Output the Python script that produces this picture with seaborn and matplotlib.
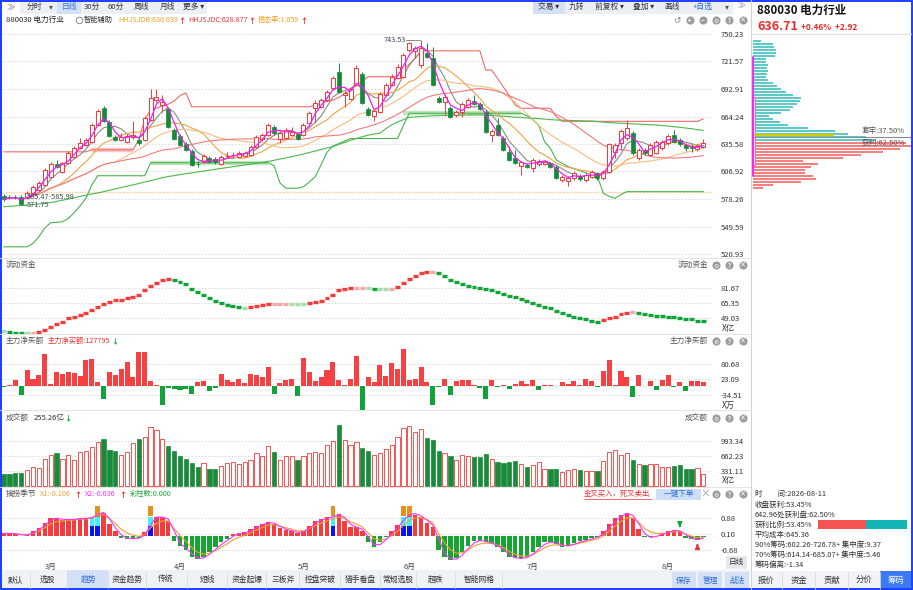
import numpy as np
import pandas as pd
import matplotlib
matplotlib.use("Agg")
import matplotlib.pyplot as plt
from matplotlib.patches import Rectangle
import seaborn as sns

# ---------------- data ----------------
open_ = [581.6, 580.4, 580.4, 580.8, 580.2, 584.4, 587.8, 593.0, 601.7, 614.6,
         606.9, 616.0, 622.2, 631.6, 634.7, 637.8, 655.6, 673.3, 658.7, 643.0,
         639.9, 638.1, 643.0, 639.9, 639.9, 660.8, 681.6, 676.4, 672.2, 650.3,
         644.1, 635.8, 628.8, 614.9, 617.3, 621.2, 620.1, 614.9, 623.1, 623.8,
         622.5, 623.2, 624.3, 632.9, 640.6, 645.1, 653.8, 641.0, 642.0, 645.1,
         645.9, 645.1, 657.3, 672.9, 674.6, 681.6, 693.8, 711.1, 686.8, 682.3,
         697.2, 708.4, 672.2, 664.9, 668.8, 686.8, 697.2, 704.8, 705.9, 733.7,
         732.7, 718.1, 730.3, 725.7, 683.4, 679.8, 672.9, 666.0, 669.4, 674.6,
         680.9, 677.4, 669.4, 645.1, 655.6, 641.7, 627.7, 620.8, 613.1, 613.9,
         610.4, 614.9, 614.9, 615.6, 612.1, 598.2, 597.2, 600.0, 602.7, 598.2,
         601.7, 605.2, 599.8, 606.6, 627.4, 637.1, 641.7, 646.9, 620.8, 629.5,
         624.3, 626.7, 631.3, 636.8, 645.1, 639.9, 634.7, 633.7, 630.2, 632.5]
close = [578.1, 580.2, 580.2, 573.5, 584.7, 590.9, 595.1, 608.7, 614.9, 611.5,
         615.6, 626.4, 631.6, 636.8, 639.9, 655.6, 670.1, 659.7, 644.1, 639.9,
         643.0, 644.1, 645.1, 637.1, 662.8, 683.7, 685.0, 679.8, 653.8, 641.0,
         634.7, 629.5, 613.9, 614.8, 623.2, 617.3, 616.3, 622.5, 623.3, 623.9,
         626.1, 626.1, 632.9, 643.0, 645.1, 655.6, 646.9, 647.2, 650.3, 648.6,
         640.6, 655.6, 667.7, 678.2, 681.6, 690.2, 704.2, 690.2, 689.2, 692.7,
         714.6, 678.2, 666.0, 670.1, 687.5, 697.2, 705.9, 716.3, 728.5, 740.7,
         735.5, 736.1, 726.7, 697.2, 679.8, 685.0, 664.2, 669.4, 677.4, 681.6,
         677.4, 672.2, 648.6, 649.3, 645.1, 629.5, 619.1, 615.6, 616.3, 611.5,
         619.1, 618.0, 617.0, 612.1, 600.0, 601.7, 600.0, 605.8, 599.0, 603.4,
         606.9, 600.0, 606.6, 635.4, 634.7, 649.3, 652.1, 626.1, 629.5, 626.1,
         634.7, 638.1, 638.1, 644.1, 638.1, 635.4, 631.3, 631.1, 633.7, 636.71]
high = [583.7, 582.6, 582.6, 582.6, 586.8, 593.0, 597.1, 610.7, 617.0, 619.1,
        617.0, 628.5, 633.7, 642.0, 642.0, 657.6, 672.2, 675.3, 660.8, 645.1,
        647.2, 646.2, 659.7, 642.0, 664.9, 693.1, 693.1, 686.8, 674.3, 652.4,
        646.2, 637.8, 630.5, 618.0, 625.3, 623.2, 622.2, 624.3, 627.4, 627.4,
        628.5, 628.5, 634.7, 645.1, 647.2, 657.6, 655.6, 649.3, 652.4, 653.5,
        647.2, 657.6, 670.1, 681.6, 683.7, 692.0, 706.6, 720.2, 691.0, 695.1,
        718.1, 710.8, 674.3, 672.2, 689.9, 699.3, 708.7, 719.1, 730.6, 741.8,
        737.9, 743.53, 741.0, 736.8, 685.8, 686.8, 675.3, 671.2, 679.5, 683.7,
        686.8, 679.5, 671.2, 651.4, 662.8, 644.1, 633.7, 629.5, 618.0, 616.0,
        621.2, 620.1, 619.1, 617.0, 613.9, 603.4, 602.4, 607.6, 604.5, 605.5,
        608.7, 606.6, 608.7, 636.8, 636.8, 651.4, 660.8, 649.3, 631.6, 631.6,
        636.8, 639.9, 639.9, 646.2, 650.3, 642.0, 636.8, 635.8, 635.8, 641.0]
low = [576.4, 577.9, 577.9, 571.75, 578.4, 582.6, 586.8, 592.0, 600.3, 610.2,
       605.5, 614.9, 621.2, 630.5, 633.7, 636.8, 654.5, 658.7, 643.0, 638.9,
       638.9, 636.8, 641.0, 634.7, 638.9, 659.7, 679.5, 669.1, 652.4, 639.9,
       633.7, 628.5, 612.8, 611.8, 615.9, 615.9, 614.9, 613.9, 621.2, 621.2,
       621.2, 622.2, 623.2, 631.6, 638.9, 644.1, 645.1, 636.8, 641.0, 644.1,
       639.3, 644.1, 656.6, 658.7, 673.3, 680.6, 692.0, 688.9, 674.6, 681.6,
       696.2, 677.4, 664.9, 659.7, 668.0, 685.8, 696.2, 703.5, 704.5, 731.6,
       725.4, 714.9, 725.4, 696.2, 678.5, 666.0, 662.8, 663.9, 663.9, 673.3,
       676.4, 671.2, 647.2, 638.1, 644.1, 628.5, 618.0, 614.9, 603.4, 610.2,
       606.6, 612.8, 613.9, 610.7, 599.3, 596.2, 592.0, 598.2, 597.1, 596.2,
       600.3, 598.2, 598.2, 605.5, 621.2, 629.5, 639.9, 624.3, 619.1, 624.3,
       623.2, 625.3, 629.5, 634.7, 636.8, 633.7, 628.5, 627.4, 628.5, 631.6]

upper_band = ([627.4] * 15 + [629.5] * 8 +
              [639.9, 660.8, 671.0, 673.0, 675.0, 677.0, 680.4, 686.0, 688.9] +
              [674.4] * 21 +
              [676.0, 678.0, 680.0, 681.4, 684.0, 688.0, 692.0, 697.0, 701.0] +
              [705.7] * 6 + [712.9, 719.0, 725.0] + [732.7] * 11 +
              [712.7, 712.7, 703.9, 695.0, 686.1, 676.2] + [672.8] * 6 +
              [664.0] + [659.2] * 24 + [661.8])
lower_band = ([528.4] * 5 +
              [532.0, 539.0, 548.0, 553.5, 554.0, 554.5, 558.0, 564.0, 571.0, 579.0, 593.0] +
              [602.5] * 9 + [616.0] * 21 + [613.0, 595.0] + [589.5] * 3 +
              [591.0, 596.0, 601.5, 614.0, 627.0, 633.5, 636.0, 638.5] +
              [641.3] * 9 + [655.0] + [667.6] * 20 +
              [665.0, 661.0, 655.0, 638.0, 631.0, 619.0, 615.5, 612.0, 609.8, 607.7,
               605.6, 603.5, 601.5, 584.2, 581.0, 579.0, 583.0] + [585.9] * 14)
long_line = [570.2, 570.6, 571.1, 571.5, 572.0, 572.5, 573.0, 573.6, 574.5, 575.7,
             577.0, 578.3, 579.6, 580.9, 582.2, 583.5, 584.5, 585.9, 587.3, 588.8,
             590.2, 591.6, 592.9, 594.4, 595.9, 597.4, 598.9, 600.4, 601.7, 602.6,
             603.6, 604.6, 605.5, 606.4, 607.3, 608.3, 609.2, 610.1, 611.0, 611.9,
             612.8, 613.7, 614.6, 615.5, 616.4, 617.4, 618.6, 619.9, 621.1, 622.4,
             623.7, 625.2, 626.7, 628.3, 629.8, 631.4, 632.9, 635.1, 637.3, 639.4,
             641.3, 643.1, 644.8, 646.0, 646.9, 651.5, 655.5, 658.5, 661.0, 663.4,
             663.8, 664.2, 664.6, 665.0, 665.2, 665.3, 665.4, 665.5, 665.6, 665.7,
             665.8, 665.8, 665.6, 665.3, 664.9, 664.5, 664.1, 663.6, 663.2, 662.8,
             662.4, 662.0, 661.5, 661.0, 660.6, 660.4, 660.2, 660.0, 659.8, 659.6,
             659.5, 659.0, 658.3, 657.8, 657.5, 657.2, 656.9, 656.6, 656.3, 656.0,
             655.7, 655.4, 654.8, 654.2, 653.6, 653.0, 652.2, 651.5, 650.4, 649.8]
pale_bands = [(15, 22, 629.5, "#f8c8c8"), (25, 45, 616.0, "#bfe5bf"), (68, 88, 667.6, "#bfe5bf")]

fund = [34.9, 34.0, 33.2, 32.6, 32.4, 32.7, 33.5, 35.5, 39.5, 42.8,
        45.0, 48.5, 50.0, 52.3, 54.1, 57.5, 61.5, 64.7, 66.8, 68.2,
        69.1, 70.3, 71.5, 74.5, 79.5, 83.5, 87.5, 90.5, 91.1, 90.0,
        88.5, 85.5, 81.0, 77.5, 74.0, 71.0, 68.0, 65.5, 63.5, 61.8,
        60.7, 60.3, 60.8, 62.0, 63.2, 63.9, 64.1, 64.2, 64.3, 64.3,
        64.3, 64.3, 65.0, 66.0, 68.0, 70.5, 74.0, 79.5, 80.5, 81.2,
        81.6, 82.0, 82.0, 80.5, 80.2, 80.2, 80.3, 83.0, 87.5, 91.5,
        95.0, 97.8, 99.0, 99.4, 97.8, 94.5, 90.5, 88.2, 86.0, 84.2,
        83.0, 82.0, 81.0, 79.5, 77.5, 75.5, 73.5, 71.8, 70.2, 68.0,
        65.5, 63.3, 61.3, 59.4, 57.0, 54.5, 52.5, 50.5, 49.0, 47.5,
        46.2, 45.2, 46.5, 49.5, 50.5, 53.0, 55.0, 55.3, 54.3, 53.5,
        52.5, 51.7, 50.9, 50.2, 49.6, 48.9, 48.3, 47.6, 46.3, 45.5]
netbuy = [-3, 3.7, 22, -33, 57, 26, 38, 119, 6, 50,
          44, 50, 48, 36, 94, 98, 14, -48, 50, 38,
          63, 88, 32, 125, 125, 16, 1, -70, -9, -11,
          -15, -11, -31, 12, 16, -19, -9, 43, 20, 14,
          26, 10, 43, 38, 32, 69, -31, 10, 23, 26,
          -38, 104, 50, 16, 31, 58, 88, 22, 3, 26,
          112, -89, 31, 14, 78, 35, 83, 63, 137, 21,
          26, 69, 14, -73, -6, 25, -36, 16, 22, 22,
          1, -9, -48, 22, -6, 4, -11, 7, 16, 6,
          22, -15, 4, 4, -1, 14, 6, 19, 1, 26,
          16, -6, 53, 94, 4, 56, 32, -43, 41, 0.5,
          16, -15, 22, 38, -3, 14, -19, 16, 16, 14]
turnover = [259, 259, 295, 295, 353, 425, 403, 597, 691, 727,
            597, 677, 583, 741, 763, 871, 979, 1029, 799, 763,
            691, 749, 957, 1029, 1087, 1303, 1245, 1029, 885, 763,
            655, 597, 511, 425, 511, 381, 381, 439, 511, 533,
            489, 525, 583, 727, 655, 885, 741, 569, 655, 655,
            583, 669, 727, 741, 727, 907, 1000, 1339, 1015, 907,
            965, 835, 763, 691, 727, 813, 907, 1072, 1288, 1317,
            1195, 1267, 1051, 1015, 763, 727, 669, 583, 691, 655,
            641, 641, 705, 597, 533, 511, 525, 547, 475, 425,
            461, 525, 381, 367, 367, 317, 345, 381, 353, 324,
            324, 331, 561, 741, 785, 691, 727, 583, 475, 453,
            489, 475, 425, 425, 439, 453, 381, 381, 403, 255.26]
osc = [0.13, 0.13, 0.10, 0.02, 0.07, 0.23, 0.39, 0.67, 0.89, 0.89,
       0.80, 0.84, 0.84, 0.89, 0.89, 0.95, 1.20, 1.17, 0.59, 0.23,
       -0.10, -0.13, -0.13, -0.10, 0.18, 0.95, 0.95, 0.95, 0.76, -0.23,
       -0.48, -0.72, -1.05, -1.18, -1.05, -0.80, -0.56, -0.31, -0.15, 0.10,
       0.13, 0.18, 0.34, 0.51, 0.62, 0.72, 0.59, 0.39, 0.30, 0.23,
       0.13, 0.26, 0.51, 0.76, 0.84, 0.95, 0.98, 1.12, 0.76, 0.43,
       0.46, 0.23, -0.31, -0.56, -0.31, -0.07, 0.26, 0.56, 0.98, 1.17,
       1.08, 0.95, 0.67, 0.43, -0.72, -1.05, -1.22, -1.13, -0.80, -0.48,
       -0.23, -0.23, -0.31, -0.39, -0.56, -0.80, -1.05, -1.13, -1.13, -1.05,
       -0.80, -0.53, -0.31, -0.31, -0.39, -0.53, -0.48, -0.36, -0.26, -0.20,
       -0.10, -0.03, 0.23, 0.59, 0.89, 1.08, 1.17, 0.92, 0.34, -0.07,
       -0.07, 0.02, 0.13, 0.23, 0.30, 0.23, -0.10, -0.15, -0.20, -0.03]
signal_idx = [15, 16, 25, 56, 68, 69]
signal_top_idx = [16, 25, 56, 68, 69]

chip_price = [742.9, 739.8, 736.7, 733.6, 730.4, 727.3, 724.2, 721.0, 717.9, 714.8,
              711.7, 708.5, 705.4, 702.3, 699.2, 696.0, 692.9, 689.8, 686.7, 683.5,
              680.4, 677.3, 674.1, 671.0, 667.9, 664.8, 661.6, 658.5, 655.4, 652.3,
              649.1, 646.0, 642.9, 639.7, 636.6, 633.5, 630.4, 627.2, 624.1, 621.0,
              617.9, 614.7, 611.6, 608.5, 605.4, 602.2, 599.1, 596.0, 592.9, 589.7]
chip_len = [8, 20, 21, 23, 23, 22, 13, 13, 15, 14,
            15, 14, 13, 15, 20, 24, 28, 33, 40, 48,
            47, 44, 40, 37, 28, 16, 20, 27, 35, 55,
            82, 95, 113, 123, 153, 162, 147, 130, 108, 90,
            50, 65, 58, 52, 52, 60, 63, 48, 20, 10]
avg_cost = 645.36
profit_line = 642.96
range90 = (602.26, 726.78)
range70 = (614.14, 685.07)

price_ticks = [750.23, 721.57, 692.91, 664.24, 635.58, 606.92, 578.26, 549.59, 520.93]
fund_ticks = [81.67, 65.35, 49.03]
net_ticks = [80.68, 23.09, -34.51]
vol_ticks = [993.34, 662.23, 331.11]
osc_ticks = [0.88, 0.10, -0.68]
month_labels = ["3月", "4月", "5月", "6月", "7月", "8月"]
month_pos = [8, 30, 51, 69, 90, 113]

# ---------------- style ----------------
sns.set_theme(style="white")
plt.rcParams["font.family"] = ["Noto Sans CJK SC", "DejaVu Sans"]
plt.rcParams["axes.unicode_minus"] = False

RED = "#f03c3c"
GRN = "#13893a"
W, H = 913, 590
fig = plt.figure(figsize=(W / 100, H / 100), dpi=100)
fig.patch.set_facecolor("white")
XL = ((1 - 3.6) / 5.88, (712 - 3.6) / 5.88)


def panel(y0, y1, ticks, v_at, px_at, per_px, x0=1, x1=712):
    ax = fig.add_axes([x0 / W, 1 - y1 / H, (x1 - x0) / W, (y1 - y0) / H])
    ax.set_xlim(*XL)
    ax.set_ylim(v_at + (px_at - y1) * per_px, v_at + (px_at - y0) * per_px)
    for s in ax.spines.values():
        s.set_visible(False)
    ax.set_facecolor("none")
    ax.yaxis.tick_right()
    ax.set_yticks(ticks)
    ax.set_yticklabels([f"{t:.2f}" for t in ticks])
    ax.tick_params(axis="y", length=0, labelsize=5.5, labelcolor="#333333", pad=6)
    ax.tick_params(axis="x", length=0, labelbottom=False)
    ax.grid(axis="y", color="#d6d6d6", ls=(0, (2, 2)), lw=0.6)
    ax.grid(axis="x", visible=False)
    return ax


idx = np.arange(len(close))
o = np.array(open_); c = np.array(close); hi = np.array(high); lo = np.array(low)
up = c >= o
btop = np.maximum(o, c); bbot = np.minimum(o, c)
bh = np.maximum(btop - bbot, 0.45)

# ---------------- main price panel ----------------
axm = panel(26, 258, price_ticks, 635.58, 144, 1.0423)
cs = pd.Series(close)
ma_specs = [(5, "#8a8a8a"), (10, "#f2a14a"), (20, "#f5bd7e"), (30, "#f27b7b")]
axm.axhline(585.98, color="#fbe0c4", lw=1.0, zorder=1)
for a, b, v, col in pale_bands:
    axm.plot([a, b], [v, v], color=col, lw=3.2, solid_capstyle="butt", zorder=1)
axm.plot(idx, upper_band, color="#f26a6a", lw=0.8, zorder=2)
axm.plot(idx, lower_band, color="#46b54e", lw=0.8, zorder=2)
sns.lineplot(x=idx, y=long_line, ax=axm, color="#4cb84c", lw=0.8, zorder=2)
for n, col in ma_specs:
    sns.lineplot(x=idx, y=cs.rolling(n, min_periods=1).mean().values, ax=axm,
                 color=col, lw=0.8, zorder=3)
wc = np.where(up, RED, GRN)
axm.vlines(idx, lo, bbot, colors=wc, lw=0.7, zorder=4)
axm.vlines(idx, btop, hi, colors=wc, lw=0.7, zorder=4)
axm.bar(idx[up], bh[up], bottom=bbot[up], width=0.68, facecolor="white",
        edgecolor=RED, lw=0.75, zorder=5)
axm.bar(idx[~up], bh[~up], bottom=bbot[~up], width=0.68, facecolor=GRN,
        edgecolor=GRN, lw=0.5, zorder=5)
sns.lineplot(x=idx, y=cs.rolling(3, min_periods=1).mean().values, ax=axm,
             color="#f01ef0", lw=0.9, zorder=6)
axm.set_xlabel(""); axm.set_ylabel("")
axm.set_xlim(*XL)
imax = int(np.argmax(hi)); imin = int(np.argmin(lo))
axm.plot([imax - 2.6, imax - 0.1], [hi[imax], hi[imax]], color="#777777", lw=0.6, zorder=6)
axm.text(imax - 2.6, hi[imax], f"{hi[imax]:.2f}", fontsize=5.3, color="#3c4a5c",
         ha="right", va="center", zorder=7)
axm.plot([imin + 0.1, imin + 0.9], [lo[imin], lo[imin]], color="#777777", lw=0.6, zorder=6)
axm.text(imin + 1.0, lo[imin], f"{lo[imin]:.2f}", fontsize=5.3, color="#3c4a5c",
         ha="left", va="center", zorder=7)
axm.text(imin + 1.0, 580.6, "585.47-585.98", fontsize=5.3, color="#3c4a5c",
         ha="left", va="center", zorder=7)

# ---------------- fund flow panel ----------------
axf = panel(258, 334, fund_ticks, 81.67, 288, 1.088)
fv = np.array(fund)
d = np.diff(fv, prepend=fv[0])
fcol = np.where(d > 0.45, "#f03c3c", np.where(d > 0, "#f6a9a9",
                np.where(d < -0.45, "#12a23a", "#a8dca8")))
axf.hlines(fv, idx - 0.42, idx + 0.42, colors=fcol, lw=2.4)

# ---------------- net buy panel ----------------
axn = panel(334, 410, net_ticks, 80.68, 364, 3.716)
nb = np.array(netbuy)
axn.bar(idx, nb, width=0.86, color=np.where(nb >= 0, "#f54141", "#12a23a"), lw=0)
axn.axhline(0, color="#e6e6e6", lw=0.5, zorder=0)

# ---------------- turnover panel ----------------
axv = panel(410, 487, vol_ticks, 331.11, 471, 22.07)
tv = np.array(turnover)
axv.bar(idx[up], tv[up], width=0.72, facecolor="white", edgecolor="#f25a5a", lw=0.75)
axv.bar(idx[~up], tv[~up], width=0.72, facecolor="#1a8a3c", edgecolor="#1a8a3c", lw=0.5)

# ---------------- oscillator panel ----------------
axo = panel(487, 561, osc_ticks, 0.10, 534, 0.0503)
ov_ = np.array(osc)
axo.bar(idx, ov_, width=0.76, color=np.where(ov_ >= 0, "#f53b3b", "#15a532"), lw=0)
axo.bar(signal_idx, [0.51] * len(signal_idx), width=0.76, color="#0a14f0", lw=0)
axo.bar(signal_idx, [0.44] * len(signal_idx), bottom=0.51, width=0.76, color="#3ff2ff", lw=0)
axo.bar(signal_top_idx, [0.49] * len(signal_top_idx), bottom=1.0, width=0.76,
        color="#e8901c", lw=0)
osr = pd.Series(osc)
sns.lineplot(x=idx, y=osr.ewm(span=4).mean().values, ax=axo, color="#f0a030", lw=0.8)
sns.lineplot(x=idx, y=osr.rolling(2, min_periods=1).mean().values, ax=axo, color="#ff33ff", lw=0.8)
axo.set_xlabel(""); axo.set_ylabel(""); axo.set_xlim(*XL)
axo.annotate("", xy=(115, 0.30), xytext=(115, 0.64),
             arrowprops=dict(arrowstyle="-|>", color="#18a33a", lw=1.3, mutation_scale=6))
axo.annotate("", xy=(118, -0.26), xytext=(118, -0.60),
             arrowprops=dict(arrowstyle="-|>", color="#f03030", lw=1.3, mutation_scale=6))
for lab, pos in zip(month_labels, month_pos):
    axo.text(pos, -0.02, lab, transform=axo.get_xaxis_transform(), fontsize=5.5,
             color="#444444", ha="center", va="top")

# ---------------- chip distribution ----------------
axc = fig.add_axes([751 / W, 1 - 258 / H, 160 / W, 232 / H])
axc.axis("off")
cp = np.array(chip_price); cl = np.array(chip_len)
ccol = np.where(cp > close[-1], "#5ec9c9", "#f58080")
axc.barh(cp, cl, left=1.5, height=2.2, color=ccol, lw=0)
axc.plot([4, 82], [avg_cost, avg_cost], color="#d2cc00", lw=1.6)
axc.axhline(profit_line, color="#8c8c8c", lw=0.8)
axc.plot([1.5, 1.5], list(range90), color="#ff10ff", lw=1.3)
axc.add_patch(Rectangle((1.2, range70[0]), 3.0, range70[1] - range70[0],
                        facecolor="white", edgecolor="#ff66d0", lw=0.8))
axc.set_xlim(0, 160)
axc.set_ylim(axm.get_ylim())
axc.text(154, 649.5, "套牢:37.50%", fontsize=5.5, color="#555555", ha="right", va="center")
axc.text(154, 636.8, "获利:62.50%", fontsize=5.5, color="#555555", ha="right", va="center")

# ---------------- overlay (chrome, texts) ----------------
ov = fig.add_axes([0, 0, 1, 1], zorder=10)
ov.set_xlim(0, W); ov.set_ylim(H, 0); ov.axis("off"); ov.patch.set_alpha(0)


def R(x0, y0, x1, y1, fc, ec="none", lw=0.6):
    ov.add_patch(Rectangle((x0, y0), x1 - x0, y1 - y0, facecolor=fc, edgecolor=ec, lw=lw))


def T(x, y, s, size=5.5, color="#333333", ha="left", weight="normal", **kw):
    ov.text(x, y, s, fontsize=size, color=color, ha=ha, va="center", fontweight=weight, **kw)


def icons(y, items=((716, "⚙"), (729, "?"), (743, "×"))):
    for x, ch in items:
        ov.scatter([x], [y], s=34, c="#9c9c9c", zorder=11, lw=0)
        ov.text(x, y + 0.3, ch, fontsize=4.3, color="white", ha="center", va="center",
                zorder=12, fontweight="bold")


for yy in (258, 334, 410, 487):
    ov.plot([0, 750], [yy, yy], color="#e4e4e4", lw=0.7)
ov.plot([750.5, 750.5], [0, H], color="#cfd3da", lw=0.8)
ov.plot([751, 911], [34, 34], color="#e0e0e0", lw=0.7)

# toolbar left
T(11, 7, "≫", size=6, color="#666666", ha="center")
R(20, 1, 207, 13.5, "#eceff4")
R(57, 1, 81, 13.5, "#d3e0f5")
for x, s, col in [(34, "分时", "#333333"), (51, "▾", "#555555"), (69, "日线", "#3a6fd8"),
                  (92, "30分", "#333333"), (116, "60分", "#333333"), (141, "周线", "#333333"),
                  (167, "月线", "#333333"), (194, "更多 ▾", "#333333")]:
    T(x, 7.2, s, size=5.6, color=col, ha="center")
# toolbar right
R(533, 1, 733, 13.5, "#eceff4")
R(533, 1, 565, 13.5, "#d3e0f5")
for x, s, col in [(549, "交易 ▾", "#333333"), (576, "九转", "#333333"), (609, "前复权 ▾", "#333333"),
                  (644, "叠加 ▾", "#333333"), (672, "画线", "#333333"), (703, "+自选", "#2f6bd8"),
                  (727, "▾", "#555555"), (741, "≫", "#777777")]:
    T(x, 7.2, s, size=5.6, color=col, ha="center")

# header row
T(6, 20, "880030 电力行业", size=5.5, color="#222222")
ov.scatter([79], [20], s=22, facecolors="white", edgecolors="#777777", lw=0.6, zorder=11)
T(79, 20.3, "▾", size=3.5, color="#555555", ha="center")
T(84, 20, "智能辅助", size=5.2, color="#333333")
T(118, 20, "HHJSJDB:630.039", size=5.1, color="#f0a020")
T(178, 20, "↑", size=5.2, color="#f02020", weight="bold")
T(188, 20, "HHJSJDC:628.877", size=5.1, color="#f03030")
T(248, 20, "↑", size=5.2, color="#f02020", weight="bold")
T(258, 20, "稳态率:1.059", size=5.1, color="#f0a020")
T(300, 20, "↑", size=5.2, color="#f02020", weight="bold")
T(677, 20, "↺", size=6.5, color="#888888", ha="center")
icons(20, ((690, "+"), (703, "−"), (716, "⚙"), (729, "?"), (743, "×")))

# panel headers
T(6, 265, "流动资金", color="#555555")
T(708, 265, "流动资金", color="#555555", ha="right")
icons(265)
T(722, 329, "X亿", size=6, color="#333333")
T(6, 341, "主力净买额", color="#555555")
T(48, 341, "主力净买额:127795", size=5.2, color="#f03030")
T(111, 341, "↓", size=5.2, color="#12a23a", weight="bold")
T(708, 341, "主力净买额", color="#555555", ha="right")
icons(341)
T(722, 405, "X万", size=6, color="#333333")
T(6, 418, "成交额", color="#555555")
T(34, 418, "255.26亿", color="#333333")
T(64, 418, "↓", size=5.2, color="#12a23a", weight="bold")
T(708, 418, "成交额", color="#555555", ha="right")
icons(418)
T(722, 481, "X亿", size=6, color="#333333")
T(6, 494, "摘捞季节", color="#555555")
T(40, 494, "X1:-0.106", size=5.2, color="#f0a030")
T(74, 494, "↑", size=5.2, color="#f02020", weight="bold")
T(85, 494, "X2:-0.036", size=5.2, color="#ff33ff")
T(119, 494, "↑", size=5.2, color="#f02020", weight="bold")
T(130, 494, "彩柱数:0.000", size=5.2, color="#19a83a")
ov.text(584, 494, "金叉买入，死叉卖出", fontsize=5.3, color="#f03030", va="center")
ov.plot([584, 651], [498.5, 498.5], color="#f03030", lw=0.5)
R(656, 488.5, 701, 500, "#cddff6")
T(678.5, 494.2, "一键下单", color="#2f6bd8", ha="center")
T(705, 494, "×", size=7, color="#999999", ha="center")
icons(494)

# date row
R(726, 555.5, 747, 568.5, "#e6e8ec")
T(736.5, 562, "日线", color="#333333", ha="center")

# bottom tab bar
R(0, 570, 750, 590, "#eef1f6")
R(67, 570, 108, 590, "#d3e0f5")
for x in (30, 67, 108, 146, 187, 227, 266, 299, 340, 380, 416, 455, 502):
    ov.plot([x, x], [572, 588], color="#d7dbe2", lw=0.6)
tabs = [(15, "默认"), (47, "选股"), (88, "趋势"), (127, "资金趋势"), (166, "传统"), (207, "短线"),
        (247, "资金起爆"), (283, "三板斧"), (320, "控盘突破"), (360, "猎手看盘"), (398, "常规选股"),
        (436, "超跌"), (479, "智能网格")]
for x, s in tabs:
    T(x, 580, s, size=5.6, color="#2f6bd8" if s == "趋势" else "#333333", ha="center")
for x, s in [(684, "保存"), (710, "管理"), (737, "战法")]:
    R(x - 12, 572, x + 12, 589, "#d3e0f5")
    T(x, 580.5, s, size=5.6, color="#2f6bd8", ha="center")

# right panel header
T(757, 10, "880030 电力行业", size=8.3, color="#111111", weight="bold")
T(757, 26, "636.71", size=9.0, color="#f02828", weight="bold")
T(801, 27, "+0.46%  +2.92", size=6.0, color="#f02828", weight="bold")

# right info block
info = [(494, "时　　间:2026-08-11"), (504.5, "收盘获利:53.45%"), (514.5, "642.96处获利盘:62.50%"),
        (524.5, "获利比例:53.45%"), (534.5, "平均成本:645.36"),
        (544.5, "90%筹码:602.26-726.78+ 集中度:9.37"),
        (554.5, "70%筹码:614.14-685.07+ 集中度:5.46"), (565, "筹码偏离:-1.34")]
for y, s in info:
    T(755, y, s, size=5.4, color="#333333")
R(818, 520, 866, 528.5, "#f55252")
R(866, 520, 907, 528.5, "#11b3b3")
R(751, 571, 911, 590, "#f1f3f7")
R(880, 571, 911, 590, "#3a7bf2")
for x in (782, 815, 848, 880):
    ov.plot([x, x], [572, 589], color="#d7dbe2", lw=0.6)
for x, s in [(766, "报价"), (799, "资金"), (832, "贡献"), (864, "分价"), (896, "筹码")]:
    T(x, 580.5, s, size=6, color="white" if s == "筹码" else "#333333", ha="center")

# blue frame
ov.add_patch(Rectangle((0.7, 0.7), W - 2.2, H - 1.6, fill=False, edgecolor="#1e3cff", lw=1.4))

fig.savefig("out.png", dpi=100)
